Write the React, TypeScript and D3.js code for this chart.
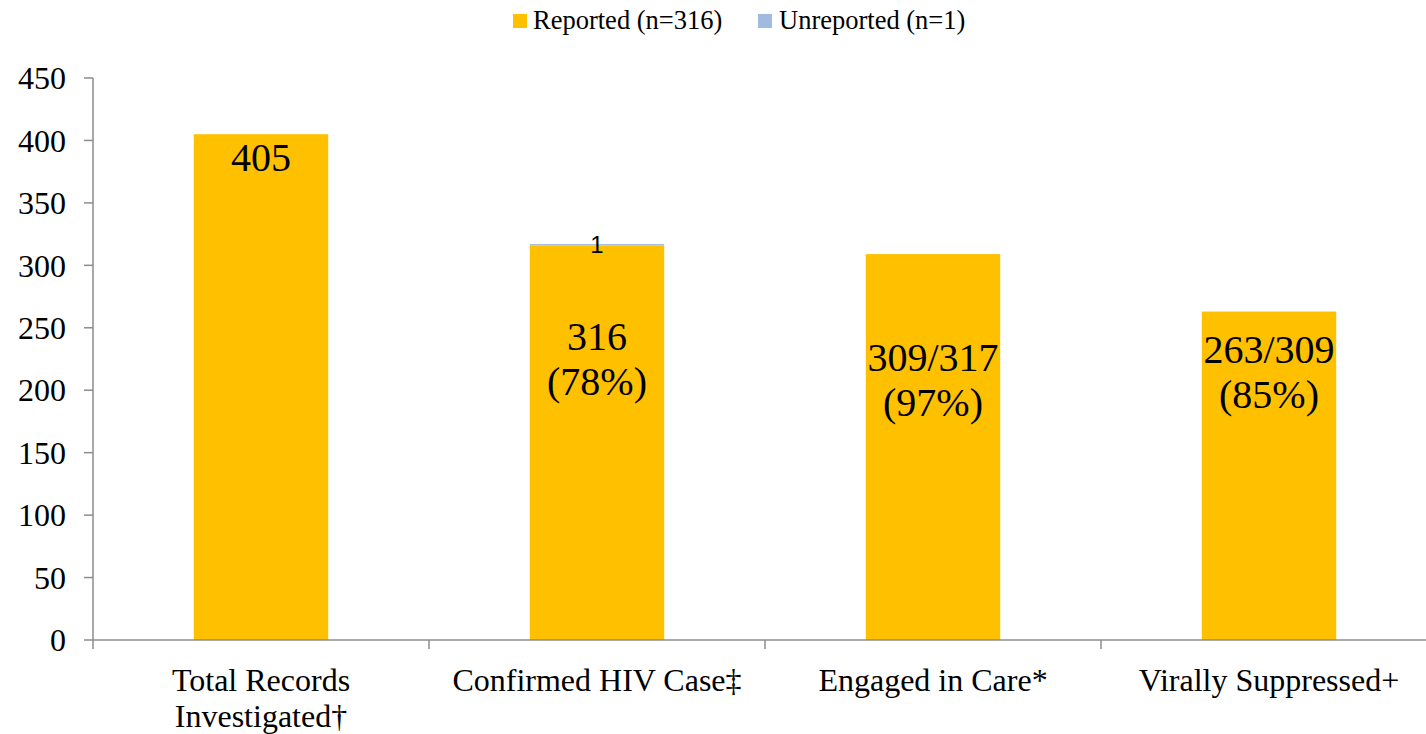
import React from 'react';
import { scaleBand, scaleLinear } from 'd3';

const categories = [
  ['Total Records', 'Investigated†'],
  ['Confirmed HIV Case‡'],
  ['Engaged in Care*'],
  ['Virally Suppressed+'],
];
const reported = [405, 316, 309, 263];
const unreported = [0, 1, 0, 0];
const barLabels = [['405'], ['316', '(78%)'], ['309/317', '(97%)'], ['263/309', '(85%)']];
const yTicks = [0, 50, 100, 150, 200, 250, 300, 350, 400, 450];
const legendItems = ['Reported (n=316)', 'Unreported (n=1)'];

// label baseline offsets below the bar top (px), as placed in the original
const labelOffset = [37, 106, 117, 51];

const W = 1426;
const H = 734;
const m = { left: 93, right: -11, top: 78, bottom: 94 };
const ORANGE = '#FFC000';
const BLUE = '#A0BAE0';
const AXIS = '#8C8C8C';
const serif = '"Liberation Serif", "Times New Roman", serif';

const App = () => {
  const x = scaleBand<number>()
    .domain(categories.map((_, i) => i))
    .range([m.left, W - m.right])
    .paddingInner(0.6)
    .paddingOuter(0.3);
  const band = (W - m.right - m.left) / categories.length;
  const y = scaleLinear().domain([0, 450]).range([H - m.bottom, m.top]);
  const y0 = y(0);

  return (
    <div style={{ position: 'absolute', left: 0, top: 0 }}>
      <svg width={W} height={H} style={{ display: 'block', background: '#fff' }}>
        {/* legend */}
        <g fontFamily={serif} fontSize={26.5}>
          <rect x={513} y={14} width={14} height={14} fill={ORANGE} />
          <text x={533} y={29}>{legendItems[0]}</text>
          <rect x={758} y={14} width={14} height={14} fill={BLUE} />
          <text x={779} y={29}>{legendItems[1]}</text>
        </g>

        {/* bars */}
        {reported.map((v, i) => (
          <g key={i}>
            <rect x={x(i)} y={y(v)} width={x.bandwidth()} height={y0 - y(v)} fill={ORANGE} />
            {unreported[i] > 0 && (
              <rect
                x={x(i)}
                y={y(v + unreported[i])}
                width={x.bandwidth()}
                height={y(v) - y(v + unreported[i])}
                fill={BLUE}
              />
            )}
          </g>
        ))}

        {/* y axis */}
        <line x1={m.left} x2={m.left} y1={y(450)} y2={y0} stroke={AXIS} strokeWidth={1.5} />
        {yTicks.map((t) => (
          <g key={t} transform={`translate(0,${y(t)})`}>
            <line x1={m.left - 9} x2={m.left} stroke={AXIS} strokeWidth={1.5} />
            <text x={66} dy="0.35em" textAnchor="end" fontFamily={serif} fontSize={32}>
              {t}
            </text>
          </g>
        ))}

        {/* x axis */}
        <line x1={m.left} x2={W} y1={y0} y2={y0} stroke={AXIS} strokeWidth={1.5} />
        {categories.map((_, i) => (
          <line
            key={i}
            x1={m.left + band * i}
            x2={m.left + band * i}
            y1={y0}
            y2={y0 + 9}
            stroke={AXIS}
            strokeWidth={1.5}
          />
        ))}
        {categories.map((lines, i) => (
          <text
            key={i}
            x={x(i)! + x.bandwidth() / 2}
            y={691}
            textAnchor="middle"
            fontFamily={serif}
            fontSize={32}
          >
            {lines.map((l, j) => (
              <tspan key={j} x={x(i)! + x.bandwidth() / 2} dy={j === 0 ? 0 : 36}>
                {l}
              </tspan>
            ))}
          </text>
        ))}

        {/* data labels */}
        {barLabels.map((lines, i) => {
          const cx = x(i)! + x.bandwidth() / 2;
          const top = y(reported[i] + unreported[i]);
          return (
            <text key={i} x={cx} y={top + labelOffset[i]} textAnchor="middle" fontFamily={serif} fontSize={40}>
              {lines.map((l, j) => (
                <tspan key={j} x={cx} dy={j === 0 ? 0 : 45}>
                  {l}
                </tspan>
              ))}
            </text>
          );
        })}
        {unreported.map((u, i) =>
          u > 0 ? (
            <text
              key={i}
              x={x(i)! + x.bandwidth() / 2}
              y={y(reported[i] + u) + 9}
              textAnchor="middle"
              fontFamily='"Liberation Sans", Arial, sans-serif'
              fontSize={24}
            >
              {u}
            </text>
          ) : null
        )}
      </svg>
    </div>
  );
};

export default App;
